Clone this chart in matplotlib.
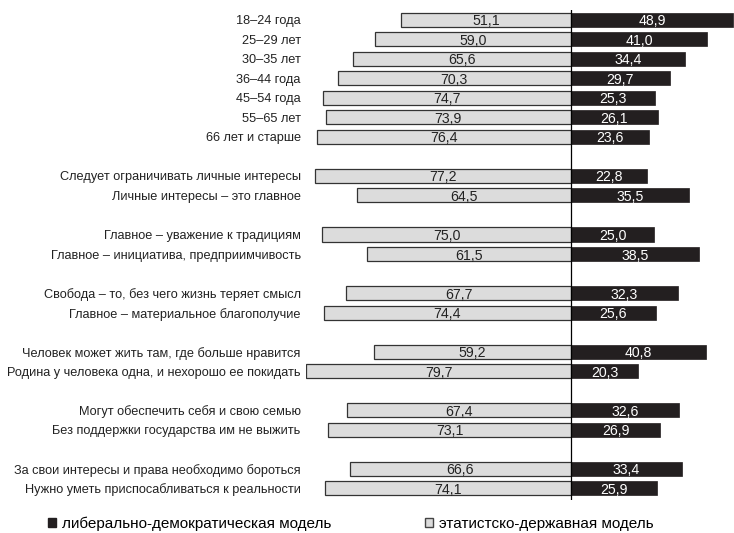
import matplotlib
matplotlib.use("Agg")
import matplotlib.pyplot as plt
from matplotlib.patches import Patch
import matplotlib.font_manager as fm

names = {f.name for f in fm.fontManager.ttflist}
if "Liberation Sans Narrow" in names:
    plt.rcParams['font.family'] = ['Liberation Sans Narrow', 'DejaVu Sans']
    label_size = 10.3
else:
    plt.rcParams['font.family'] = ['Liberation Sans', 'DejaVu Sans']
    label_size = 9.2

labels = ["18–24 года", "25–29 лет", "30–35 лет", "36–44 года", "45–54 года",
          "55–65 лет", "66 лет и старше",
          "Следует ограничивать личные интересы", "Личные интересы – это главное",
          "Главное – уважение к традициям", "Главное – инициатива, предприимчивость",
          "Свобода – то, без чего жизнь теряет смысл", "Главное – материальное благополучие",
          "Человек может жить там, где больше нравится",
          "Родина у человека одна, и нехорошо ее покидать",
          "Могут обеспечить себя и свою семью", "Без поддержки государства им не выжить",
          "За свои интересы и права необходимо бороться",
          "Нужно уметь приспосабливаться к реальности"]
statist = [51.1, 59.0, 65.6, 70.3, 74.7, 73.9, 76.4,
           77.2, 64.5, 75.0, 61.5, 67.7, 74.4, 59.2, 79.7, 67.4, 73.1, 66.6, 74.1]
liberal = [48.9, 41.0, 34.4, 29.7, 25.3, 26.1, 23.6,
           22.8, 35.5, 25.0, 38.5, 32.3, 25.6, 40.8, 20.3, 32.6, 26.9, 33.4, 25.9]
# row positions (blank row between groups)
rows = [0, 1, 2, 3, 4, 5, 6, 8, 9, 11, 12, 14, 15, 17, 18, 20, 21, 23, 24]

grey = "#dcdcdc"
black = "#231f20"

fig = plt.figure(figsize=(7.34, 5.33), dpi=100)
ax = fig.add_axes([306 / 734, 33 / 533, 428 / 734, 490 / 533])

ax.barh(rows, [-v for v in statist], height=0.72, color=grey,
        edgecolor="#333333", linewidth=0.9)
ax.barh(rows, liberal, height=0.72, color=black, edgecolor=black, linewidth=0.5)
ax.axvline(0, color="black", linewidth=0.9)

for y, s, l in zip(rows, statist, liberal):
    ax.text(-s / 2, y + 0.08, f"{s:.1f}".replace(".", ","), ha="center", va="center",
            fontsize=label_size + 1, color="#222222")
    ax.text(l / 2, y + 0.08, f"{l:.1f}".replace(".", ","), ha="center", va="center",
            fontsize=label_size + 1, color="white")

ax.set_xlim(-79.8, 49.1)
ax.set_ylim(24.6, -0.5)
ax.set_yticks(rows)
ax.set_yticklabels(labels, fontsize=label_size, color="#222222")
ax.tick_params(axis="y", length=0, pad=3.8)
ax.set_xticks([])
for sp in ax.spines.values():
    sp.set_visible(False)

handles = [Patch(facecolor=black, edgecolor=black, label="либерально-демократическая модель"),
           Patch(facecolor=grey, edgecolor="#444444", label="этатистско-державная модель")]
fig.legend(handles=handles, loc="center", bbox_to_anchor=(351 / 734, 1 - 524 / 533),
           ncol=2, frameon=False, prop={"family": ["Liberation Sans", "DejaVu Sans"], "size": 11},
           handlelength=0.5, handleheight=0.5, handletextpad=0.45, columnspacing=6.1)

fig.savefig("out.png", dpi=100)
